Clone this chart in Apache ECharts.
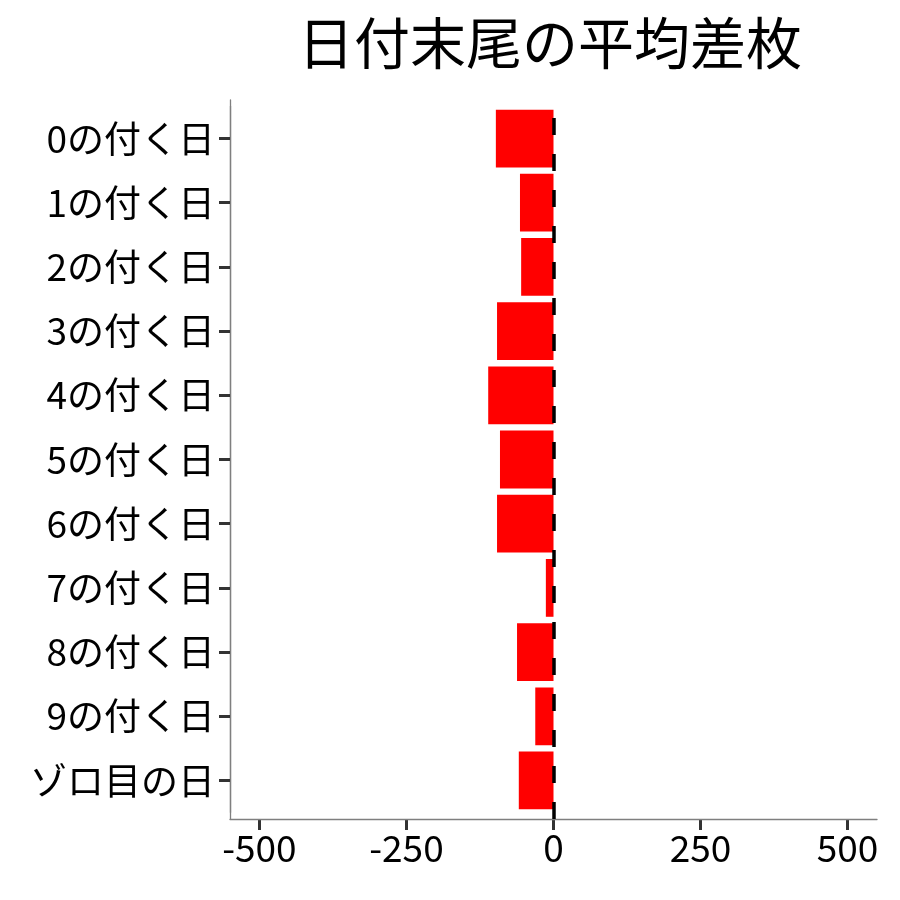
<!DOCTYPE html>
<html>
<head>
<meta charset="utf-8">
<script src="https://cdn.jsdelivr.net/npm/echarts@6/dist/echarts.min.js"></script>
<style>
  html, body { margin: 0; padding: 0; background: #fff; }
  #main { width: 900px; height: 900px; }
</style>
</head>
<body>
<div id="main"></div>
<script>
const categories = ['0の付く日', '1の付く日', '2の付く日', '3の付く日', '4の付く日', '5の付く日',
  '6の付く日', '7の付く日', '8の付く日', '9の付く日', 'ゾロ目の日'];
const avgDiff = [-98, -57, -55, -96, -111, -91, -96, -13, -62, -31, -59];

const fontFamily = '"Noto Sans CJK JP", "Noto Sans", sans-serif';

// panel: x -550..550 over 647px, 11 categories plus 0.6 padding each end over 719px
const L = 230, R = 23, T = 100, B = 81;
const xPad = 647 * 50 / 1100;
const yPad = 719 / 11.2 * 0.1;
const tickLen = 11;
const hidden = { show: false };
const greyLine = { show: true, onZero: false, lineStyle: { color: '#7f7f7f', width: 1.3 } };
const tickStyle = { show: true, alignWithLabel: true, length: tickLen, lineStyle: { color: '#333', width: 3 } };

const chart = echarts.init(document.getElementById('main'));

chart.setOption({
  backgroundColor: '#fff',
  animation: false,
  title: {
    text: '日付末尾の平均差枚',
    left: 545,
    top: 10,
    textAlign: 'center',
    textStyle: { fontFamily, fontSize: 56, fontWeight: 'normal', color: '#000' }
  },
  grid: [
    // full panel: axis lines and the zero line
    { left: L, right: R, top: T, bottom: B },
    // data area: x -500..500, inner category bands
    { left: L + xPad, right: R + xPad, top: T + yPad, bottom: B + yPad },
    // thin strip under the x axis line: its split lines act as the x ticks
    { left: L + xPad, right: R + xPad, top: 900 - B, bottom: B - tickLen }
  ],
  xAxis: [
    {
      gridIndex: 0, type: 'value', min: -550, max: 550,
      axisLine: greyLine, axisTick: hidden, axisLabel: hidden, splitLine: hidden
    },
    {
      gridIndex: 1, type: 'value', min: -500, max: 500, interval: 250,
      offset: yPad,
      axisLine: hidden,
      axisTick: hidden,
      axisLabel: { fontFamily, fontSize: 37, color: '#000', margin: 10 },
      splitLine: hidden
    },
    {
      gridIndex: 2, type: 'value', min: -500, max: 500, interval: 250,
      axisLine: hidden, axisTick: hidden, axisLabel: hidden,
      splitLine: { show: true, showMinLine: true, showMaxLine: true, lineStyle: { color: '#333', width: 3 } }
    }
  ],
  yAxis: [
    {
      gridIndex: 0, type: 'value', min: 0, max: 1,
      axisLine: greyLine, axisTick: hidden, axisLabel: hidden, splitLine: hidden
    },
    {
      gridIndex: 1, type: 'category', data: categories, inverse: true,
      offset: xPad,
      axisLine: greyLine,
      axisTick: tickStyle,
      axisLabel: { fontFamily, fontSize: 37, color: '#000', margin: 15 }
    },
    {
      gridIndex: 2, type: 'value', min: 0, max: 1,
      axisLine: hidden, axisTick: hidden, axisLabel: hidden, splitLine: hidden
    }
  ],
  series: [
    {
      type: 'bar',
      xAxisIndex: 1,
      yAxisIndex: 1,
      data: avgDiff,
      barCategoryGap: '10%',
      itemStyle: { color: '#ff0000' }
    },
    {
      type: 'line',
      xAxisIndex: 0,
      yAxisIndex: 0,
      data: [],
      markLine: {
        silent: true,
        symbol: 'none',
        label: { show: false },
        lineStyle: { color: '#000', width: 3.5, type: [17, 19] },
        data: [{ xAxis: 0 }]
      }
    }
  ]
});
</script>
</body>
</html>
